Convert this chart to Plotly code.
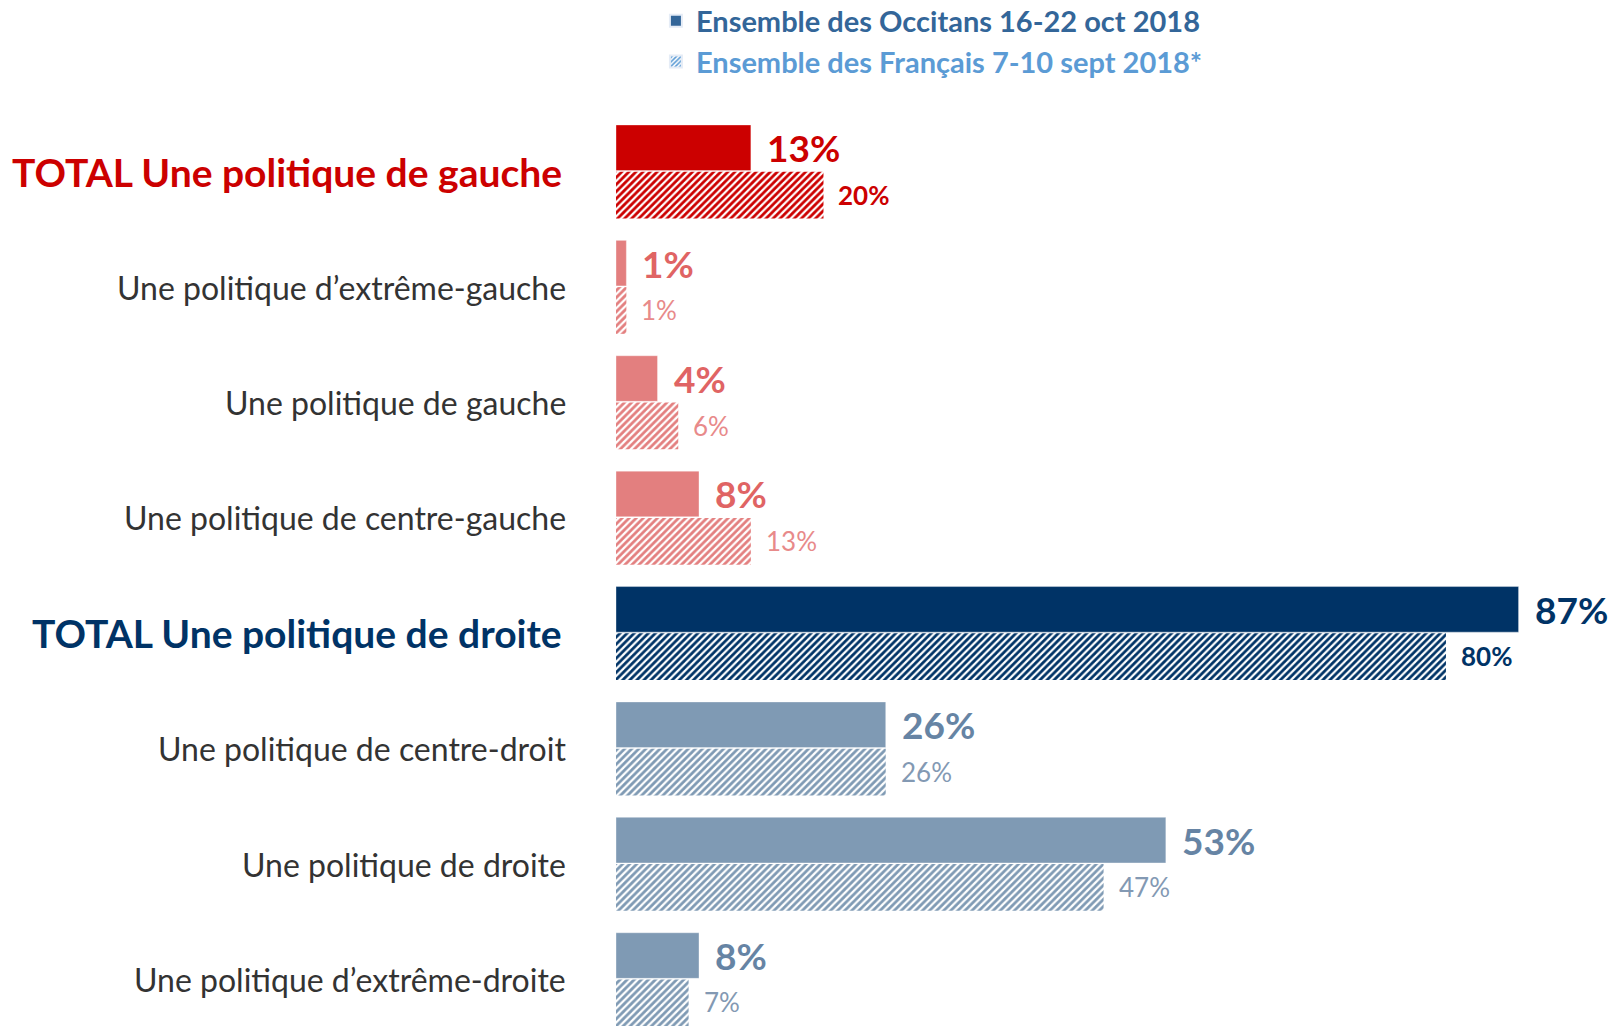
import plotly.graph_objects as go

categories = [
    "TOTAL Une politique de gauche",
    "Une politique d’extrême-gauche",
    "Une politique de gauche",
    "Une politique de centre-gauche",
    "TOTAL Une politique de droite",
    "Une politique de centre-droit",
    "Une politique de droite",
    "Une politique d’extrême-droite",
]
occitans = [13, 1, 4, 8, 87, 26, 53, 8]
francais = [20, 1, 6, 13, 80, 26, 47, 7]
is_total = [True, False, False, False, True, False, False, False]

series_names = ["Ensemble des Occitans 16-22 oct 2018", "Ensemble des Français 7-10 sept 2018*"]

bar_colors = ["#CC0000", "#E37F7F", "#E37F7F", "#E37F7F", "#003366", "#7F9AB4", "#7F9AB4", "#7F9AB4"]
solid_label_colors = ["#CC0000", "#E06464", "#E06464", "#E06464", "#003366", "#6684A4", "#6684A4", "#6684A4"]
hatch_label_colors = ["#CC0000", "#E88A8A", "#E88A8A", "#E88A8A", "#003366", "#8399B3", "#8399B3", "#8399B3"]
cat_label_colors = ["#CC0000", "#333333", "#333333", "#333333", "#003366", "#333333", "#333333", "#333333"]

FONT = "Lato, 'Open Sans', sans-serif"

fig = go.Figure()

fig.add_trace(go.Bar(
    x=occitans, y=categories, orientation="h",
    width=0.395, offset=-0.405,
    marker=dict(color=bar_colors, line=dict(width=1, color="rgba(255,255,255,0.35)")),
    showlegend=False, hoverinfo="x+y",
))
fig.add_trace(go.Bar(
    x=francais, y=categories, orientation="h",
    width=0.405, offset=0.0,
    marker=dict(color=bar_colors, line=dict(width=0),
                pattern=dict(shape="/", fillmode="replace", fgcolor=bar_colors,
                             bgcolor="white", size=5, solidity=0.55)),
    showlegend=False, hoverinfo="x+y",
))

# legend-only traces
fig.add_trace(go.Bar(
    x=[None], y=[None], orientation="h",
    name="<b><span style='color:#336699'>" + series_names[0] + "</span></b>",
    marker=dict(color="#336699"), showlegend=True,
))
fig.add_trace(go.Bar(
    x=[None], y=[None], orientation="h",
    name="<b><span style='color:#5B9BD5'>" + series_names[1] + "</span></b>",
    marker=dict(color="#5B9BD5", pattern=dict(shape="/", fillmode="replace", fgcolor="#5B9BD5",
                                              bgcolor="white", size=4, solidity=0.5)),
    showlegend=True,
))

annotations = []
for i, cat in enumerate(categories):
    # category labels
    if is_total[i]:
        txt = "<b>" + cat + "</b>"
        size = 39
        xs = -52
    else:
        txt = cat
        size = 32
        xs = -48
    annotations.append(dict(
        x=0, y=cat, xref="paper", yref="y", xanchor="right", yanchor="middle",
        text=txt, showarrow=False, xshift=xs,
        font=dict(family=FONT, size=size, color=cat_label_colors[i]),
    ))
    # solid value labels
    annotations.append(dict(
        x=occitans[i], y=cat, xref="x", yref="y", xanchor="left", yanchor="middle",
        text="<b>" + f"{occitans[i]}%" + "</b>", showarrow=False,
        xshift=14, yshift=24,
        font=dict(family=FONT, size=37, color=solid_label_colors[i]),
    ))
    # hatched value labels
    htxt = f"{francais[i]}%"
    if is_total[i]:
        htxt = "<b>" + htxt + "</b>"
    annotations.append(dict(
        x=francais[i], y=cat, xref="x", yref="y", xanchor="left", yanchor="middle",
        text=htxt, showarrow=False,
        xshift=13, yshift=-23,
        font=dict(family=FONT, size=26, color=hatch_label_colors[i]),
    ))

fig.update_layout(
    width=1614, height=1026,
    margin=dict(l=616, r=0, t=114, b=0, autoexpand=False),
    paper_bgcolor="white", plot_bgcolor="white",
    barmode="overlay",
    xaxis=dict(visible=False, range=[0, 96.2]),
    yaxis=dict(visible=False, categoryorder="array", categoryarray=categories,
               range=[7.403, -0.5]),
    legend=dict(x=0.04, y=1.13, xanchor="left", yanchor="top",
                font=dict(family=FONT, size=29), bgcolor="rgba(0,0,0,0)",
                itemsizing="constant", traceorder="normal"),
    annotations=annotations,
    font=dict(family=FONT),
)

fig.write_html("out.html", config={"displayModeBar": False},
               post_script="document.body.style.margin='0';document.body.style.overflow='hidden';")
